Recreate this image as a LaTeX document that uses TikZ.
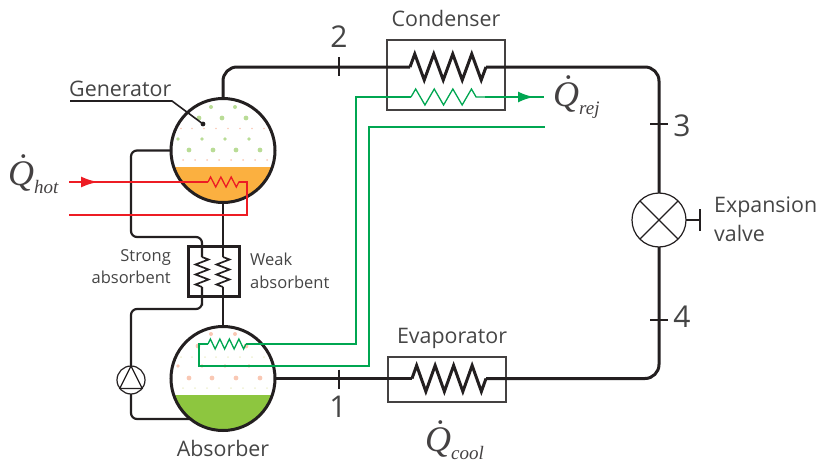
\documentclass[tikz,border=0pt]{standalone}
\usepackage{fontspec}
\setmainfont{Open Sans}
\newfontfamily\heatfont{Liberation Serif}
\usetikzlibrary{arrows.meta,decorations.pathmorphing}
\definecolor{ink}{HTML}{231F20}
\definecolor{txt}{HTML}{454545}
\definecolor{hotred}{HTML}{ED1C24}
\definecolor{coolgreen}{HTML}{00A651}
\definecolor{richfill}{HTML}{FBB040}
\definecolor{leanfill}{HTML}{8DC63F}
\definecolor{greendot}{HTML}{B9DC96}
\definecolor{pinkdot}{HTML}{F9C8B4}
\definecolor{paledot}{HTML}{EEF0D2}
\newcommand{\heatlabel}[1]{\heatfont\itshape\fontsize{36}{38}\selectfont\makebox[0pt][l]{\hspace{7pt}\raisebox{7pt}{^^^^02d9}}Q\raisebox{-8pt}{\fontsize{19}{20}\selectfont #1}}
\tikzset{
  pipe/.style={draw=ink, line width=3pt},
  branch/.style={draw=ink, line width=2.2pt, rounded corners=6pt},
  vessel/.style={circle, draw=ink, line width=3pt, minimum size=104pt, inner sep=0pt, outer sep=0pt},
  unitbox/.style={draw=ink!85, line width=1.2pt, minimum width=118pt, inner sep=0pt, outer sep=0pt},
  thincirc/.style={circle, draw=ink, line width=1.2pt, inner sep=0pt, outer sep=0pt},
  thinline/.style={draw=ink, line width=1.2pt},
  coil/.style={decorate, decoration={zigzag, segment length=#1, amplitude=13pt}, line join=miter},
  hotline/.style={draw=hotred, line width=2.3pt},
  coolline/.style={draw=coolgreen, line width=2.3pt},
  smallcoil/.style 2 args={decorate, decoration={zigzag, segment length=#1, amplitude=#2}, line width=1.3pt},
  hxcoil/.style={draw=ink, line width=1.7pt, decorate, decoration={zigzag, segment length=10pt, amplitude=6.5pt}},
  lbl/.style={font=\fontsize{21.4}{29}\selectfont, text=txt, align=left, inner sep=0pt},
  sublbl/.style={font=\fontsize{16.5}{22.5}\selectfont, text=txt, inner sep=0pt},
  num/.style={font=\fontsize{30}{32}\selectfont, text=txt, inner sep=0pt},
  heat/.style={text=ink!85, inner sep=0pt, anchor=base west}
}
\begin{document}
\begin{tikzpicture}[x=1pt, y=-1pt]
  \useasboundingbox (0,0) rectangle (817,463);

  % liquid levels and vapour dots
  \begin{scope}
    \clip (223,150.5) circle (52pt);
    \fill[richfill] (165,167) rectangle (285,210);
  \end{scope}
  \begin{scope}
    \clip (223,378.5) circle (52pt);
    \fill[leanfill] (165,395) rectangle (285,435);
  \end{scope}
  \foreach \px in {211,235} \fill[greendot] (\px,107) circle (2pt);
  \foreach \px in {199,222,246} \fill[greendot] (\px,118) circle (2.4pt);
  \foreach \px in {181,192,204,216,228,240,252,264} \fill[pinkdot] (\px,128.5) circle (.9pt);
  \foreach \px in {178,202,225,249} \fill[greendot] (\px,139) circle (1.8pt);
  \foreach \px in {189,213,236,260} \fill[greendot] (\px,150) circle (2.4pt);
  \foreach \px in {183,195,207,219,231,243,255,267} \fill[pinkdot] (\px,160) circle (1pt);
  \foreach \px in {211,235} \fill[pinkdot] (\px,334) circle (2pt);
  \foreach \px in {198,246} \fill[pinkdot] (\px,346) circle (2.4pt);
  \foreach \px in {181,192,205,216,228,240,252,264} \fill[paledot] (\px,357) circle (1pt);
  \foreach \px in {178,202,225,249} \fill[pinkdot] (\px,366) circle (1.8pt);
  \foreach \px in {189,212,236,260} \fill[pinkdot] (\px,378) circle (2.4pt);
  \foreach \px in {183,195,207,219,231,243,255,267} \fill[paledot] (\px,388) circle (1pt);

  \node[vessel] (generator) at (223,150.5) {};
  \node[vessel] (absorber) at (223,378.5) {};
  \node[unitbox, minimum height=70pt] (condenser) at (446,75) {};
  \node[unitbox, minimum height=45pt] (evaporator) at (447,379.5) {};
  \node[thincirc, minimum size=54pt] (valve) at (659,220) {};
  \node[thincirc, minimum size=28pt] (pump) at (131,380) {};
  \node[draw=ink, line width=3pt, minimum width=51pt, minimum height=50pt, inner sep=0pt, outer sep=0pt] (hx) at (213.5,271) {};

  \coordinate (condin) at (410,67);
  \coordinate (condout) at (486,67);
  \coordinate (evapin) at (412,378.5);
  \coordinate (evapout) at (486,378.5);
  \coordinate (tick2) at (339,67);
  \coordinate (tick1) at (339,378.5);
  \coordinate (tick3) at (659,124);
  \coordinate (tick4) at (659,320);
  \coordinate (stem) at (700,220);
  \coordinate (leftin) at (202,257);
  \coordinate (leftout) at (202,287);
  \coordinate (rightin) at (223,257);
  \coordinate (rightout) at (223,287);
  \coordinate (strongtop) at (202,237);
  \coordinate (strongleft) at (131,237);
  \coordinate (pumpup) at (202,309);
  \coordinate (pumpdown) at (192,419);
  \coordinate (leaderend) at (203,124);
  \coordinate (leaderknee) at (172,101);
  \coordinate (leaderstart) at (70,101);

  % refrigerant loop
  \draw[pipe, rounded corners=14pt] (generator.north) |- (condin);
  \draw[pipe, coil=19pt] (condin) -- (condout);
  \draw[pipe, rounded corners=14pt] (condout) -| (valve.north);
  \draw[pipe, rounded corners=14pt] (valve.south) |- (evapout);
  \draw[pipe, coil=18.5pt] (evapout) -- (evapin);
  \draw[pipe] (evapin) -- (absorber.east);
  \draw[line width=2pt, draw=ink] (tick2)+(0,-10) -- +(0,9);
  \draw[line width=2pt, draw=ink] (tick1)+(0,-9) -- +(0,10);
  \draw[line width=2pt, draw=ink] (tick3)+(-9,0) -- +(9,0);
  \draw[line width=2pt, draw=ink] (tick4)+(-9,0) -- +(9,0);

  % absorbent circuit
  \draw[branch] (generator.west) -| (strongleft) -- (strongtop) -- (leftin);
  \draw[branch, rounded corners=0pt] (generator.south) -- (rightin);
  \draw[hxcoil] (leftin) -- (leftout);
  \draw[hxcoil] (rightin) -- (rightout);
  \draw[branch, rounded corners=0pt] (rightout) -- (absorber.north);
  \draw[branch] (leftout) |- (pumpup) -| (pump.north);
  \draw[branch] (pump.south) |- (pumpdown);
  \draw[thinline] (pump.north) -- (pump.217) -- (pump.323) -- cycle;

  % valve
  \draw[thinline] (valve.north east) -- (valve.south west);
  \draw[thinline] (valve.north west) -- (valve.south east);
  \draw[thinline] (valve.east) -- (stem);
  \draw[thinline] (stem)+(0,-11) -- +(0,11);

  % heat input
  \coordinate (hotin) at (69,182);
  \coordinate (hottip) at (98,182);
  \coordinate (hotcoilin) at (208,182);
  \coordinate (hotcoilout) at (239,182);
  \coordinate (hotturn) at (247,182);
  \coordinate (hotback) at (69,215);
  \draw[hotline] (hotin) -- (hotcoilin);
  \draw[hotline, -{Latex[length=17pt,width=11pt]}] (hotin) -- (hottip);
  \draw[draw=hotred, smallcoil={10.3pt}{5pt}] (hotcoilin) -- (hotcoilout);
  \draw[hotline] (hotcoilout) -- (hotturn) |- (hotback);

  % heat rejection
  \coordinate (abscoilout) at (246,344);
  \coordinate (abscoilin) at (208,344);
  \coordinate (grnturn) at (199,344);
  \coordinate (grnlow) at (369,366);
  \coordinate (grnend) at (545,127);
  \coordinate (grnup) at (356,97);
  \coordinate (rejin) at (411,97);
  \coordinate (rejout) at (485,97);
  \coordinate (rejtip) at (534,97);
  \coordinate (rejend) at (544,97);
  \draw[draw=coolgreen, smallcoil={9.5pt}{5pt}] (abscoilin) -- (abscoilout);
  \draw[coolline] (abscoilout) -| (grnup) -- (rejin);
  \draw[draw=coolgreen, smallcoil={18.6pt}{8pt}] (rejin) -- (rejout);
  \draw[coolline] (rejout) -- (rejend);
  \draw[coolline, -{Latex[length=16pt,width=11pt]}] (rejout) -- (rejtip);
  \draw[coolline] (abscoilin) -- (grnturn) |- (grnlow) |- (grnend);

  % leader and labels
  \draw[line width=1.6pt, draw=ink] (leaderstart) -- (leaderknee) -- (leaderend);
  \fill[ink] (leaderend) circle (2.4pt);
  \node[lbl, anchor=base west] (genlbl) at (69,96) {Generator};
  \node[lbl, anchor=base] (condlbl) at (446,26) {Condenser};
  \node[lbl, anchor=base] (evaplbl) at (452,343) {Evaporator};
  \node[lbl, anchor=base] (abslbl) at (223,456) {Absorber};
  \node[lbl, anchor=north west] (vlvlbl) at (714,197) {Expansion\\valve};
  \node[sublbl, anchor=north east, align=right] (stronglbl) at (171,249) {Strong\\absorbent};
  \node[sublbl, anchor=north west, align=left] (weaklbl) at (250,253) {Weak\\absorbent};
  \node[num] (lbl2) at (339,37) {2};
  \node[num] (lbl1) at (338,407) {1};
  \node[num] (lbl3) at (682,126) {3};
  \node[num] (lbl4) at (682,317) {4};
  \node[heat] (qhot) at (8,185) {\heatlabel{hot}};
  \node[heat] (qrej) at (553,106) {\heatlabel{rej}};
  \node[heat] (qcool) at (425,451) {\heatlabel{cool}};
\end{tikzpicture}
\end{document}
